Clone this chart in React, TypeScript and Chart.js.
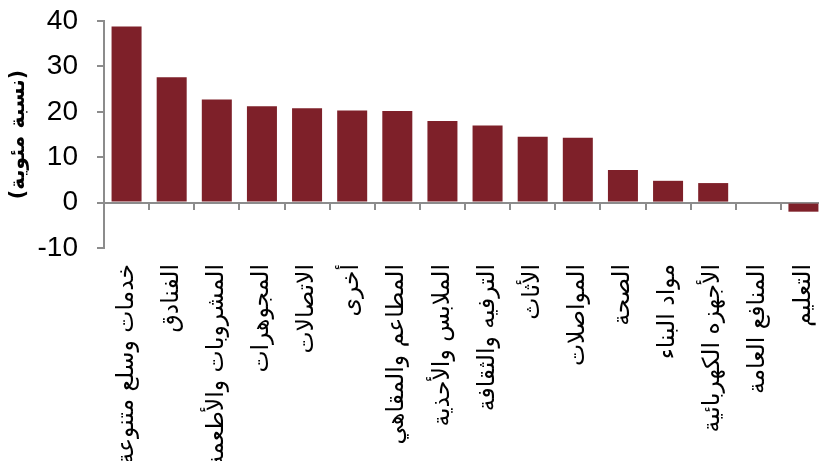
import React, { useEffect, useRef } from "react";
import { Chart, registerables } from "chart.js";

Chart.register(...registerables);

const categories: string[] = [
  "خدمات وسلع متنوعة",
  "الفنادق",
  "المشروبات والأطعمة",
  "المجوهرات",
  "الاتصالات",
  "أخرى",
  "المطاعم والمقاهي",
  "الملابس والأحذية",
  "الترفيه والثقافة",
  "الأثاث",
  "المواصلات",
  "الصحة",
  "مواد البناء",
  "الأجهزه الكهربائية",
  "المنافع العامة",
  "التعليم",
];

const values: number[] = [38.8, 27.6, 22.7, 21.2, 20.8, 20.3, 20.2, 18.0, 17.0, 14.5, 14.3, 7.2, 4.8, 4.3, 0, -2.0];

const yMin = -10;
const yMax = 40;
const yStep = 10;
const yTitle = "\u200F(نسبة مئوية)\u200F";

const BAR = "#7E2029";
const AXIS = "#8c8c8c";

export default function App() {
  const ref = useRef<HTMLCanvasElement | null>(null);

  useEffect(() => {
    if (!ref.current) return;
    const chart = new Chart(ref.current, {
      type: "bar",
      data: {
        labels: categories,
        datasets: [
          {
            data: values,
            backgroundColor: BAR,
            borderWidth: 0,
            barPercentage: 0.665,
            categoryPercentage: 1,
            xAxisID: "x",
            yAxisID: "y",
          },
        ],
      },
      options: {
        animation: false,
        responsive: true,
        maintainAspectRatio: false,
        layout: { padding: { top: 21, right: 24, left: 0, bottom: 0 } },
        plugins: { legend: { display: false }, tooltip: { enabled: false } },
        scales: {
          x: {
            type: "category",
            position: "bottom",
            offset: true,
            grid: { display: false, drawTicks: false, offset: true },
            border: { display: false },
            ticks: {
              autoSkip: false,
              maxRotation: 90,
              minRotation: 90,
              padding: 16,
              color: "#000",
              font: { family: "DejaVu Sans", size: 23.5 },
            },
            afterFit(s: any) {
              s.height = 213;
              s.paddingLeft = 0;
              s.paddingRight = 0;
            },
          },
          x0: {
            type: "category",
            axis: "x",
            position: { y: 0 },
            offset: true,
            grid: {
              offset: true,
              drawOnChartArea: false,
              drawTicks: true,
              tickLength: 6,
              color: AXIS,
              lineWidth: 2,
            },
            border: { color: AXIS, width: 2 },
            ticks: { display: false },
            afterFit(s: any) {
              s.height = 0;
              s.paddingLeft = 0;
              s.paddingRight = 0;
            },
          } as any,
          y: {
            min: yMin,
            max: yMax,
            ticks: {
              stepSize: yStep,
              padding: 19,
              color: "#000",
              font: { family: "Liberation Sans", size: 28 },
            },
            grid: { drawOnChartArea: false, drawTicks: true, tickLength: 7, color: AXIS, lineWidth: 2 },
            border: { color: AXIS, width: 2 },
            title: {
              display: true,
              text: yTitle,
              color: "#000",
              font: { family: "DejaVu Sans", size: 20.5, weight: "bold" },
              padding: { top: 6, bottom: 0 },
            },
            afterFit(s: any) {
              s.width = 104;
              s.paddingTop = 0;
              s.paddingBottom = 0;
            },
          },
        },
      } as any,
    });
    return () => chart.destroy();
  }, []);

  return (
    <div style={{ position: "fixed", left: 0, top: 0, width: 819, height: 461, overflow: "hidden", background: "#fff" }}>
      <div style={{ position: "relative", width: 850, height: 461 }}>
        <canvas ref={ref} />
      </div>
    </div>
  );
}
